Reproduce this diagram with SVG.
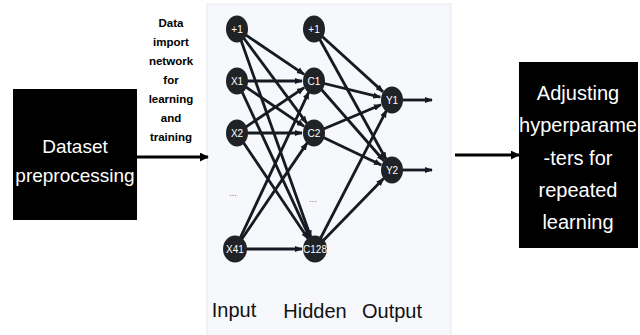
<svg xmlns="http://www.w3.org/2000/svg" width="640" height="335" viewBox="0 0 640 335">
<defs>
<marker id="ah" viewBox="0 0 10 10" refX="9" refY="5" markerWidth="8" markerHeight="8" markerUnits="userSpaceOnUse" orient="auto"><path d="M0,1 L10,5 L0,9 Z" fill="#161b23"/></marker>
<marker id="bh" viewBox="0 0 10 10" refX="9" refY="5" markerWidth="9" markerHeight="9" markerUnits="userSpaceOnUse" orient="auto"><path d="M0,0 L10,5 L0,10 Z" fill="#000"/></marker>
<style>
.box{fill:#000}
.bt{font-family:"Liberation Sans",Arial,sans-serif;fill:#fff;text-anchor:middle}
.nd{fill:#202226}
.nt{font-family:"Liberation Sans",Arial,sans-serif;font-size:10px;fill:#fff;text-anchor:middle}
.e{stroke:#161b23;stroke-width:2.8;fill:none;marker-end:url(#ah)}
.lab{font-family:"Liberation Sans",Arial,sans-serif;font-size:11.5px;font-weight:bold;fill:#000;text-anchor:middle}
.ly{font-family:"Liberation Sans",Arial,sans-serif;font-size:20px;fill:#111;text-anchor:middle}
.ar{stroke:#000;stroke-width:3;marker-end:url(#bh)}
</style>
</defs>
<rect width="640" height="335" fill="#fff"/>
<rect id="panel" x="207" y="4" width="244" height="335" fill="#f6f8fb" stroke="#e3e7ee" stroke-width="1"/>

<g id="connectors">
<line class="ar" x1="137" y1="157" x2="208" y2="157"/>
<line class="ar" x1="455" y1="155" x2="519" y2="155"/>
<line class="e" x1="237" y1="29" x2="304.1" y2="74.3"/>
<line class="e" x1="237" y1="29" x2="306.9" y2="123.4"/>
<line class="e" x1="237" y1="29" x2="311" y2="237.7"/>
<line class="e" x1="237" y1="81" x2="302" y2="81"/>
<line class="e" x1="237" y1="81" x2="304.1" y2="126.3"/>
<line class="e" x1="237" y1="81" x2="309.9" y2="238.1"/>
<line class="e" x1="237" y1="133" x2="304.1" y2="87.7"/>
<line class="e" x1="237" y1="133" x2="302" y2="133"/>
<line class="e" x1="237" y1="133" x2="308.3" y2="239"/>
<line class="e" x1="235" y1="249" x2="308.9" y2="91.9"/>
<line class="e" x1="235" y1="249" x2="307.2" y2="142.9"/>
<line class="e" x1="235" y1="249" x2="302" y2="249"/>
<line class="e" x1="314" y1="29" x2="383.1" y2="91.9"/>
<line class="e" x1="314" y1="29" x2="386.2" y2="159.5"/>
<line class="e" x1="314" y1="81" x2="380.3" y2="97.2"/>
<line class="e" x1="314" y1="81" x2="384.1" y2="161"/>
<line class="e" x1="314" y1="133" x2="381" y2="104.7"/>
<line class="e" x1="314" y1="133" x2="381.2" y2="164.9"/>
<line class="e" x1="315" y1="249" x2="386.5" y2="110.3"/>
<line class="e" x1="315" y1="249" x2="383.6" y2="178.6"/>
<line class="e" x1="400" y1="100" x2="432" y2="100"/>
<line class="e" x1="400" y1="170" x2="432" y2="170"/>
</g>

<g id="label-data">
<text class="lab" x="171" y="27">Data</text>
<text class="lab" x="171" y="46">import</text>
<text class="lab" x="171" y="65">network</text>
<text class="lab" x="171" y="84">for</text>
<text class="lab" x="171" y="103">learning</text>
<text class="lab" x="171" y="122">and</text>
<text class="lab" x="171" y="141">training</text>
</g>

<g id="dataset">
<rect class="box" x="13" y="89" width="124" height="131"/>
<text class="bt" x="75" y="153" font-size="19">Dataset</text>
<text class="bt" x="75" y="182" font-size="19">preprocessing</text>
</g>

<g id="adjusting">
<rect class="box" x="519" y="62" width="119" height="186"/>
<text class="bt" x="578" y="100" font-size="20">Adjusting</text>
<text class="bt" x="578" y="132" font-size="20">hyperparame</text>
<text class="bt" x="578" y="165" font-size="20">-ters for</text>
<text class="bt" x="578" y="197" font-size="20">repeated</text>
<text class="bt" x="578" y="229" font-size="20">learning</text>
</g>

<g id="in-bias"><ellipse class="nd" cx="237" cy="29" rx="11" ry="13.5"/><text class="nt" x="237" y="32.5">+1</text></g>
<g id="x1"><ellipse class="nd" cx="237" cy="81" rx="11" ry="13.5"/><text class="nt" x="237" y="84.5">X1</text></g>
<g id="x2"><ellipse class="nd" cx="237" cy="133" rx="11" ry="13.5"/><text class="nt" x="237" y="136.5">X2</text></g>
<g id="in-dots"><text x="233" y="196" font-family="Liberation Sans, sans-serif" font-size="9" fill="#666" text-anchor="middle">...</text></g>
<g id="x41"><ellipse class="nd" cx="235" cy="249" rx="12" ry="13.5"/><text class="nt" x="235" y="252.5" font-size="9.5">X41</text></g>

<g id="h-bias"><ellipse class="nd" cx="314" cy="29" rx="11" ry="13.5"/><text class="nt" x="314" y="32.5">+1</text></g>
<g id="c1"><ellipse class="nd" cx="314" cy="81" rx="11" ry="13.5"/><text class="nt" x="314" y="84.5">C1</text></g>
<g id="c2"><ellipse class="nd" cx="314" cy="133" rx="11" ry="13.5"/><text class="nt" x="314" y="136.5">C2</text></g>
<g id="h-dots"><text x="313" y="202" font-family="Liberation Sans, sans-serif" font-size="9" fill="#666" text-anchor="middle">...</text></g>
<g id="c128"><ellipse class="nd" cx="315" cy="249" rx="12" ry="13.5"/><text class="nt" x="315" y="252.5" font-size="9">C128</text></g>

<g id="y1"><ellipse class="nd" cx="392" cy="100" rx="11" ry="13.5"/><text class="nt" x="392" y="103.5">Y1</text></g>
<g id="y2"><ellipse class="nd" cx="392" cy="170" rx="11" ry="13.5"/><text class="nt" x="392" y="173.5">Y2</text></g>

<g id="layer-labels">
<text class="ly" x="234" y="317">Input</text>
<text class="ly" x="315" y="318">Hidden</text>
<text class="ly" x="392" y="318">Output</text>
</g>
</svg>
